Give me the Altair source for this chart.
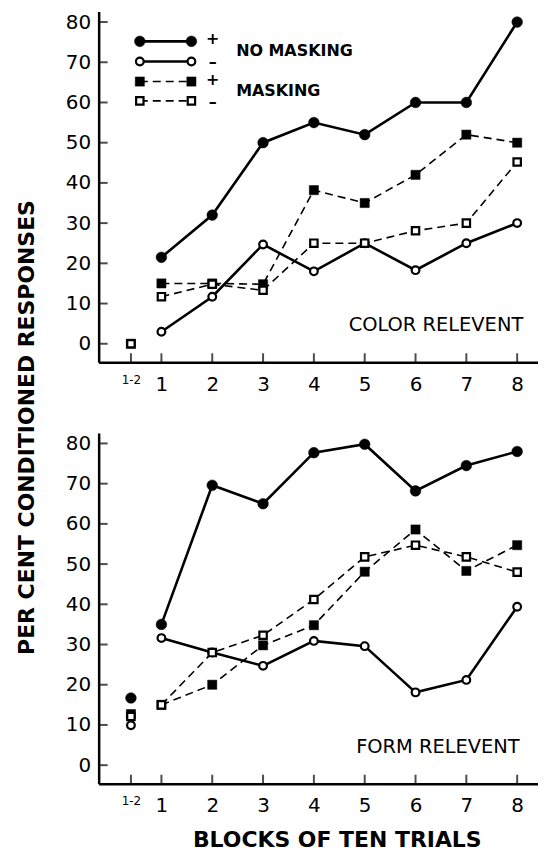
import altair as alt
import pandas as pd

# ---------------- data ----------------
# x position 0.4 stands for the "1-2" block
blocks = [0.4, 1, 2, 3, 4, 5, 6, 7, 8]
y_ticks = [0, 10, 20, 30, 40, 50, 60, 70, 80]

color_nm_plus = [None, 21.5, 32, 50, 55, 52, 60, 60, 80]
color_nm_minus = [None, 3, 11.7, 24.7, 18, 25, 18.3, 25, 30]
color_m_plus = [0, 15, 15, 14.8, 38.2, 35, 42, 52, 50]
color_m_minus = [0, 11.7, 14.8, 13.3, 25, 25, 28.1, 30, 45.2]

form_nm_plus = [16.7, 35, 69.6, 65, 77.7, 79.8, 68.2, 74.5, 78]
form_nm_minus = [9.9, 31.6, 28, 24.7, 30.9, 29.6, 18.1, 21.2, 39.4]
form_m_plus = [12.7, 15, 20, 29.8, 34.8, 48.1, 58.6, 48.3, 54.7]
form_m_minus = [12.1, 15, 28, 32.3, 41.2, 51.8, 54.7, 51.8, 48]

series_keys = ["nm_plus", "nm_minus", "m_plus", "m_minus"]
legend_signs = ["+", "\u2013", "+", "\u2013"]
legend_groups = ["NO MASKING", "MASKING"]
panel_titles = ["COLOR RELEVENT", "FORM RELEVENT"]
y_title = "PER CENT CONDITIONED RESPONSES"
x_title = "BLOCKS OF TEN TRIALS"

# ---------------- styling ----------------
FONT = "DejaVu Sans"
W, H = 441, 352
X_DOMAIN = [-0.235, 8.41]
Y_DOMAIN = [-4.6, 82.6]

STYLE = {
    "nm_plus": dict(shape="circle", fill="black", size=115, sw=0, lw=2.6, dash=None),
    "nm_minus": dict(shape="circle", fill="white", size=60, sw=2.2, lw=2.6, dash=None),
    "m_plus": dict(shape="square", fill="black", size=85, sw=0, lw=1.6, dash=[8, 5]),
    "m_minus": dict(shape="square", fill="white", size=55, sw=2.2, lw=1.6, dash=[8, 5]),
}

xs = alt.Scale(domain=X_DOMAIN, nice=False, zero=False)
ys = alt.Scale(domain=Y_DOMAIN, nice=False, zero=False)


def make_x_axis(with_title):
    kw = dict(
        values=blocks,
        labelExpr="datum.value < 0.9 ? '1-2' : datum.label",
        labelFontSize={"condition": {"test": "datum.value < 0.9", "value": 12}, "value": 20},
        labelFont=FONT, labelColor="black", labelPadding=12,
        ticks=False, grid=False, domainColor="black", domainWidth=2.5,
    )
    if with_title:
        kw.update(title=x_title, titleFont=FONT, titleFontSize=22, titleFontWeight="bold",
                  titleColor="black", titlePadding=14, titleX=239)
    else:
        kw.update(title=None)
    return alt.Axis(**kw)


def make_y_axis(with_title):
    kw = dict(
        values=y_ticks, labelFont=FONT, labelFontSize=20, labelColor="black",
        labelPadding=8, ticks=False, grid=False, domainColor="black", domainWidth=2.5,
    )
    if with_title:
        kw.update(title=y_title, titleFont=FONT, titleFontSize=22, titleFontWeight="bold",
                  titleColor="black", titleX=-65, titleY=417, titleAngle=270,
                  titleAlign="center", titleBaseline="alphabetic")
    else:
        kw.update(title=None)
    return alt.Axis(**kw)


def series_df(values_list):
    rows = []
    for key, vals in zip(series_keys, values_list):
        for b, v in zip(blocks, vals):
            if v is not None:
                rows.append({"series": key, "block": b, "value": v})
    return pd.DataFrame(rows)


def panel(values_list, title_text, title_pos, top):
    xa = make_x_axis(not top)
    ya = make_y_axis(top)
    X = lambda f: alt.X(f, type="quantitative", scale=xs, axis=xa)
    Y = lambda f: alt.Y(f, type="quantitative", scale=ys, axis=ya)

    df = series_df(values_list)
    layers = []

    # inward ticks
    layers.append(
        alt.Chart(pd.DataFrame({"v": y_ticks})).mark_tick(
            orient="horizontal", size=9, thickness=2, color="black"
        ).encode(y=Y("v"), x=alt.value(4.5))
    )
    layers.append(
        alt.Chart(pd.DataFrame({"v": blocks})).mark_tick(
            orient="vertical", size=9, thickness=2, color="black"
        ).encode(x=X("v"), y=alt.value(H - 4.5))
    )

    line_sets = [df[df["block"] >= 1]]
    point_sets = [df]
    if top:
        leg_rows = []
        for key, yv in zip(series_keys, [75.2, 70.2, 65.2, 60.4]):
            leg_rows.append({"series": key, "block": 0.575, "value": yv})
            leg_rows.append({"series": key, "block": 1.59, "value": yv})
        leg = pd.DataFrame(leg_rows)
        line_sets.append(leg)
        point_sets.append(leg)

    for d in line_sets:
        for key in series_keys:
            st = STYLE[key]
            mk = dict(color="black", strokeWidth=st["lw"])
            if st["dash"]:
                mk["strokeDash"] = st["dash"]
            layers.append(
                alt.Chart(d[d["series"] == key]).mark_line(**mk).encode(
                    x=X("block"), y=Y("value"), order="block:Q"
                )
            )
    for d in point_sets:
        for key in series_keys:
            st = STYLE[key]
            mk = dict(shape=st["shape"], filled=True, fill=st["fill"], size=st["size"], opacity=1,
                      stroke="black", strokeWidth=st["sw"] if st["sw"] > 0 else 0.5)
            layers.append(
                alt.Chart(d[d["series"] == key]).mark_point(**mk).encode(
                    x=X("block"), y=Y("value")
                )
            )

    if top:
        signs = pd.DataFrame({"block": [2.01] * 4, "value": [75.7, 70.0, 65.7, 60.2],
                              "t": legend_signs})
        layers.append(
            alt.Chart(signs).mark_text(font=FONT, fontSize=16, fontWeight="bold",
                                       color="black", baseline="middle").encode(
                x=X("block"), y=Y("value"), text="t:N")
        )
        groups = pd.DataFrame({"block": [2.47, 2.47], "value": [72.8, 62.8], "t": legend_groups})
        layers.append(
            alt.Chart(groups).mark_text(font=FONT, fontSize=16, fontWeight="bold",
                                        color="black", align="left", baseline="middle").encode(
                x=X("block"), y=Y("value"), text="t:N")
        )

    ptitle = pd.DataFrame({"block": [title_pos[0]], "value": [title_pos[1]], "t": [title_text]})
    layers.append(
        alt.Chart(ptitle).mark_text(font=FONT, fontSize=19.5, color="black",
                                    align="right", baseline="middle").encode(
            x=X("block"), y=Y("value"), text="t:N")
    )

    return alt.layer(*layers).properties(width=W, height=H)


top = panel([color_nm_plus, color_nm_minus, color_m_plus, color_m_minus],
            panel_titles[0], (8.12, 4.7), True)
bottom = panel([form_nm_plus, form_nm_minus, form_m_plus, form_m_minus],
               panel_titles[1], (8.05, 4.5), False)

chart = alt.vconcat(top, bottom, spacing=71, bounds="flush").properties(
    padding={"left": 7, "top": 2, "right": 0, "bottom": 0}
).configure_view(stroke=None)

chart.save("out.html", embed_options={"renderer": "svg", "actions": False})
